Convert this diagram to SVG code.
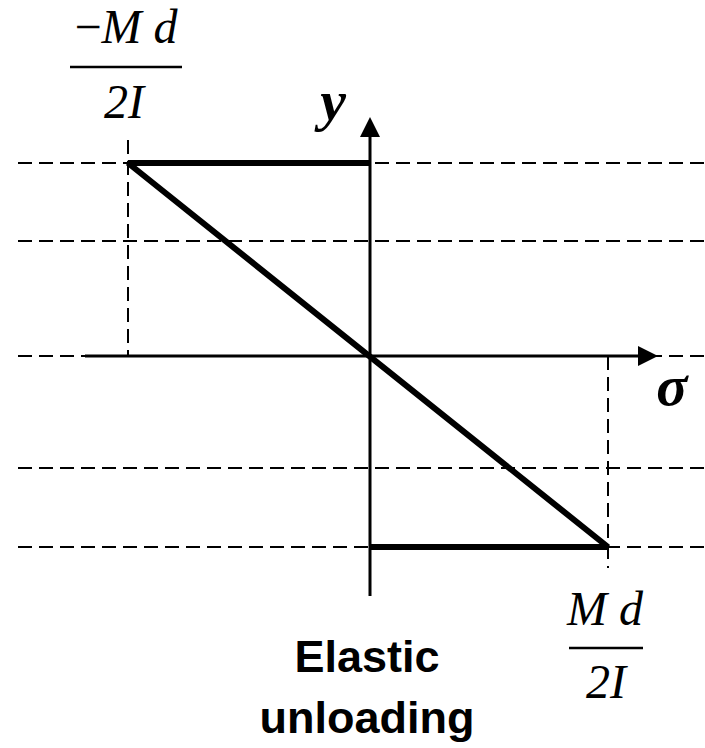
<svg xmlns="http://www.w3.org/2000/svg" width="705" height="748" viewBox="0 0 705 748">
<style>
.dash{stroke:#000;stroke-width:2;stroke-dasharray:14 7;fill:none}
.axis{stroke:#000;stroke-width:3;fill:none}
.thick{stroke:#000;stroke-width:6;fill:none;stroke-linejoin:bevel}
.math{font-family:"Liberation Serif","DejaVu Serif",serif;font-style:italic;font-size:48px;fill:#000}
.sym{font-family:"Liberation Serif","DejaVu Serif",serif;font-style:italic;font-weight:bold;font-size:58px;fill:#000}
.lbl{font-family:"Liberation Sans","Open Sans",sans-serif;font-weight:bold;font-size:45px;fill:#000}
.bar{stroke:#000;stroke-width:2.5}
</style>
<defs>
<marker id="arr" markerWidth="20" markerHeight="20" refX="0" refY="10" orient="auto" markerUnits="userSpaceOnUse" viewBox="0 0 20 20">
<path d="M0,0 L20,10 L0,20 Z" fill="#000"/>
</marker>
</defs>
<g id="guides">
<line class="dash" x1="18" y1="163" x2="705" y2="163"/>
<line class="dash" x1="18" y1="241" x2="705" y2="241"/>
<line class="dash" x1="18" y1="356" x2="705" y2="356"/>
<line class="dash" x1="18" y1="468" x2="705" y2="468"/>
<line class="dash" x1="18" y1="547" x2="705" y2="547"/>
<line class="dash" x1="128" y1="140" x2="128" y2="356"/>
<line class="dash" x1="608" y1="356" x2="608" y2="568"/>
</g>
<g id="connectors">
<line id="x-axis" class="axis" x1="85" y1="356" x2="638" y2="356" marker-end="url(#arr)"/>
<line id="y-axis" class="axis" x1="370" y1="596" x2="370" y2="137" marker-end="url(#arr)"/>
<polyline id="stress" class="thick" points="370,163 128,163 608,547 370,547"/>
</g>
<g id="label-neg">
<text class="math" x="126" y="43" text-anchor="middle"><tspan font-style="normal">−</tspan>M d</text>
<line class="bar" x1="70" y1="67" x2="182" y2="67"/>
<text class="math" x="124" y="118" text-anchor="middle">2I</text>
</g>
<g id="label-y">
<text class="sym" x="333" y="120" text-anchor="middle">y</text>
</g>
<g id="label-sigma">
<text class="sym" x="672" y="405" text-anchor="middle">σ</text>
</g>
<g id="label-pos">
<text class="math" x="605" y="625" text-anchor="middle">M d</text>
<line class="bar" x1="569" y1="648" x2="643" y2="648"/>
<text class="math" x="606" y="698" text-anchor="middle">2I</text>
</g>
<g id="label-elastic">
<text class="lbl" x="367" y="672" text-anchor="middle">Elastic</text>
<text class="lbl" x="367" y="733" text-anchor="middle">unloading</text>
</g>
</svg>
